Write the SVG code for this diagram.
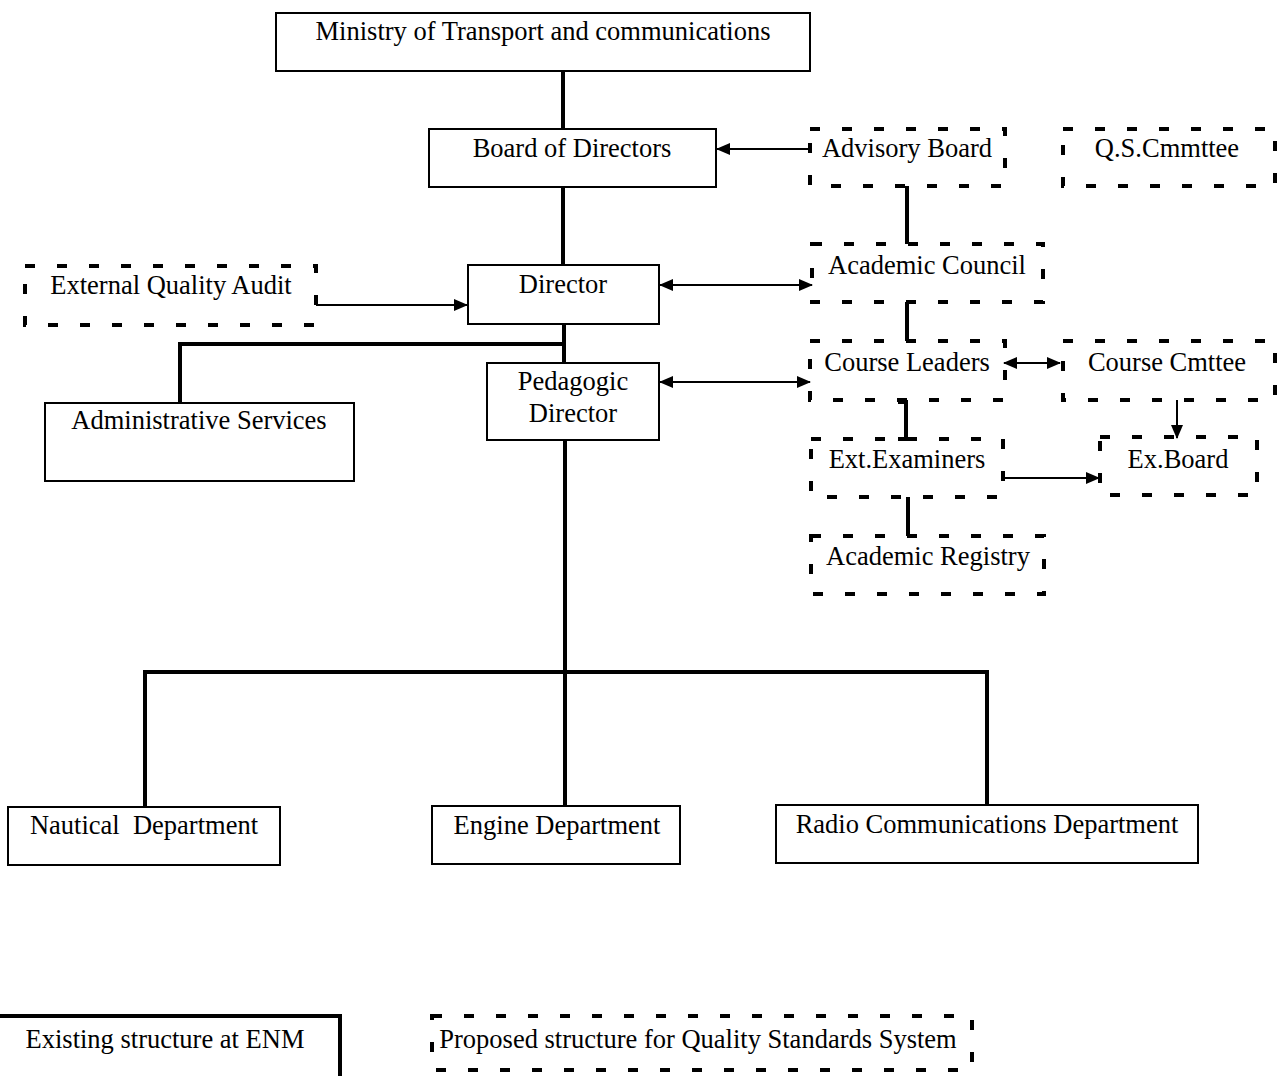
<svg xmlns="http://www.w3.org/2000/svg" width="1280" height="1076" viewBox="0 0 1280 1076">
<style>
  .box{fill:#fff;stroke:#000;stroke-width:2}
  .dbox{fill:none;stroke:#000;stroke-width:4;stroke-dasharray:10 22}
  .t{font-family:"Liberation Serif","Times New Roman",serif;font-size:26.5px;fill:#000;text-anchor:middle}
  .thick{stroke:#000;stroke-width:4;fill:none}
  .thin{stroke:#000;stroke-width:2;fill:none}
</style>
<defs>
  <marker id="ah" markerUnits="userSpaceOnUse" markerWidth="14" markerHeight="12" refX="13" refY="6" orient="auto-start-reverse">
    <path d="M0,0 L14,6 L0,12 Z" fill="#000"/>
  </marker>
</defs>
<rect width="1280" height="1076" fill="#fff"/>
<g id="connectors">
  <line class="thick" x1="563" y1="71" x2="563" y2="129"/>
  <line class="thick" x1="563" y1="187" x2="563" y2="265"/>
  <line class="thick" x1="564" y1="324" x2="564" y2="363"/>
  <polyline class="thick" points="564,344 180,344 180,403"/>
  <line class="thick" x1="565" y1="440" x2="565" y2="806"/>
  <polyline class="thick" points="145,807 145,672 987,672 987,805"/>
  <line class="thin" x1="810" y1="149" x2="717" y2="149" marker-end="url(#ah)"/>
  <line class="thick" x1="907" y1="186" x2="907" y2="244"/>
  <line class="thin" x1="660" y1="285" x2="812" y2="285" marker-start="url(#ah)" marker-end="url(#ah)"/>
  <line class="thin" x1="316" y1="305" x2="467" y2="305" marker-end="url(#ah)"/>
  <line class="thick" x1="907" y1="302" x2="907" y2="341"/>
  <line class="thin" x1="660" y1="382" x2="810" y2="382" marker-start="url(#ah)" marker-end="url(#ah)"/>
  <line class="thin" x1="1004" y1="363" x2="1060" y2="363" marker-start="url(#ah)" marker-end="url(#ah)"/>
  <line class="thin" x1="1177" y1="400" x2="1177" y2="438" marker-end="url(#ah)"/>
  <polyline class="thick" points="898,402 906,402 906,439 898,439"/>
  <line class="thin" x1="1005" y1="478" x2="1099" y2="478" marker-end="url(#ah)"/>
  <line class="thick" x1="908" y1="497" x2="908" y2="536"/>
</g>
<g id="ministry"><rect class="box" x="276" y="13" width="534" height="58"/><text class="t" x="543" y="40">Ministry of Transport and communications</text></g>
<g id="board"><rect class="box" x="429" y="129" width="287" height="58"/><text class="t" x="572" y="157">Board of Directors</text></g>
<g id="director"><rect class="box" x="468" y="265" width="191" height="59"/><text class="t" x="563" y="293">Director</text></g>
<g id="pedagogic"><rect class="box" x="487" y="363" width="172" height="77"/><text class="t" x="573" y="390">Pedagogic</text><text class="t" x="573" y="422">Director</text></g>
<g id="admin"><rect class="box" x="45" y="403" width="309" height="78"/><text class="t" x="199" y="429">Administrative Services</text></g>
<g id="nautical"><rect class="box" x="8" y="807" width="272" height="58"/><text class="t" x="144" y="834" xml:space="preserve">Nautical  Department</text></g>
<g id="engine"><rect class="box" x="432" y="806" width="248" height="58"/><text class="t" x="557" y="834">Engine Department</text></g>
<g id="radio"><rect class="box" x="776" y="805" width="422" height="58"/><text class="t" x="987" y="833">Radio Communications Department</text></g>
<g id="advisory"><rect class="dbox" x="810" y="129" width="195" height="57"/><text class="t" x="907" y="157">Advisory Board</text></g>
<g id="qs"><rect class="dbox" x="1063" y="129" width="212" height="57"/><text class="t" x="1167" y="157">Q.S.Cmmttee</text></g>
<g id="extaudit"><rect class="dbox" x="25" y="266" width="291" height="59"/><text class="t" x="171" y="294">External Quality Audit</text></g>
<g id="council"><rect class="dbox" x="812" y="244" width="231" height="58"/><text class="t" x="927" y="274">Academic Council</text></g>
<g id="leaders"><rect class="dbox" x="810" y="341" width="195" height="59"/><text class="t" x="907" y="371">Course Leaders</text></g>
<g id="cmttee"><rect class="dbox" x="1063" y="341" width="212" height="59"/><text class="t" x="1167" y="371">Course Cmttee</text></g>
<g id="examiners"><rect class="dbox" x="811" y="439" width="192" height="58"/><text class="t" x="907" y="468">Ext.Examiners</text></g>
<g id="exboard"><rect class="dbox" x="1100" y="437" width="157" height="58"/><text class="t" x="1178" y="468">Ex.Board</text></g>
<g id="registry"><rect class="dbox" x="811" y="536" width="233" height="58"/><text class="t" x="928" y="565">Academic Registry</text></g>
<g id="legend-existing"><rect fill="#fff" stroke="#000" stroke-width="4" x="-4" y="1016" width="344" height="70"/><text class="t" x="165" y="1048">Existing structure at ENM</text></g>
<g id="legend-proposed"><rect class="dbox" x="432" y="1016" width="540" height="54"/><text class="t" x="698" y="1048">Proposed structure for Quality Standards System</text></g>
</svg>
